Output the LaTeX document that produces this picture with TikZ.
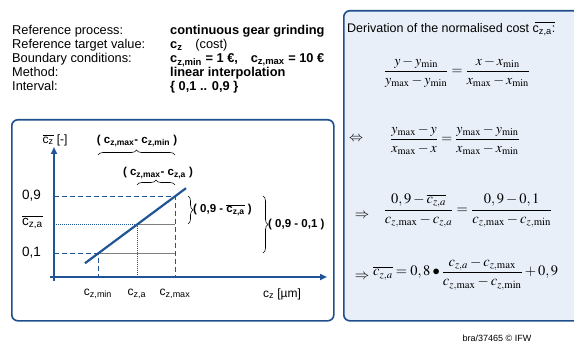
\documentclass[tikz,border=0pt]{standalone}
\usepackage{mathptmx}
\usepackage[no-math]{fontspec}
\setmainfont{Liberation Sans}
\usepackage{amsmath}
\usetikzlibrary{arrows.meta,decorations.pathreplacing}
\definecolor{frame}{HTML}{1F4E8C}
\definecolor{curve}{HTML}{1F5597}
\definecolor{panel}{HTML}{E9EFF9}
\definecolor{grid}{HTML}{7F7F7F}
\newcommand{\cmean}[1]{$\overline{\text{c}_{\text{#1}}}$}
\tikzset{frm/.style={draw=frame,line width=1.6pt,rounded corners=6pt,inner sep=0pt},txt/.style={inner sep=0pt,font=\fontsize{12.8}{14.2}\selectfont},lab/.style={inner sep=0pt,font=\fontsize{12}{14}\selectfont},blab/.style={inner sep=0pt,font=\bfseries\fontsize{11.5}{14}\selectfont},eqa/.style={inner sep=0pt,font=\fontsize{14}{17}\selectfont},eqb/.style={inner sep=0pt,font=\fontsize{14.5}{18}\selectfont},axis/.style={draw=curve,line width=1.8pt,-{Triangle[length=7pt,width=6pt]}},guide/.style={draw=curve,line width=0.8pt,dash pattern=on 5pt off 3pt},dots/.style={draw=curve,line width=0.8pt,dash pattern=on 1pt off 1pt},bar/.style={draw=grid,line width=1.2pt},slope/.style={draw=curve,line width=2.2pt},brc/.style={draw=black,line width=0.6pt,decorate,decoration={brace,amplitude=5pt}}}

\begin{document}
\begin{tikzpicture}[x=1pt,y=-1pt]
\clip (0,0) rectangle (574,345);
% header
\node[txt,anchor=north west] (info) at (12,24) {\begin{tabular}{@{}p{158pt}@{}l@{}}Reference process: & \textbf{continuous gear grinding}\\Reference target value: & \textbf{c\textsubscript{z}}\quad(cost)\\Boundary conditions: & \textbf{c\textsubscript{z,min} = 1 €,\quad c\textsubscript{z,max} = 10 €}\\Method: & \textbf{linear interpolation}\\Interval: & \textbf{\{ 0,1 .. 0,9 \}}\end{tabular}};
% frames
\node[frm,anchor=north west,minimum width=322pt,minimum height=201pt] (chart) at (11,119) {};
\node[frm,fill=panel,anchor=north west,minimum width=245pt,minimum height=310pt] (deriv) at (343,10) {};
% diagram
\coordinate (O) at (54,277);
\coordinate (ya) at (54,281);
\coordinate (yb) at (54,147);
\coordinate (xa) at (50,277);
\coordinate (xb) at (327,277);
\coordinate (L0) at (85,263.2);
\coordinate (L1) at (186,188.2);
\coordinate (P1) at (98,253.5);
\coordinate (P2) at (137,224.5);
\coordinate (P3) at (175,196.3);
\draw[guide] (P3 -| O)--(P3)--(P3 |- O);
\draw[dots] (P2 -| O)--(P2)--(P2 |- O);
\draw[guide] (P1 -| O)--(P1)--(P1 |- O);
\draw[bar] (P2)--(P2 -| P3);
\draw[bar] (P1)--(P1 -| P3);
\draw[slope] (L0)--(L1);
\draw[axis] (ya)--(yb);
\draw[axis] (xa)--(xb);
\node[lab,font=\fontsize{13.5}{15}\selectfont,anchor=west] (v9) at (22,196) {0,9};
\node[lab,font=\fontsize{13.5}{15}\selectfont,anchor=west] (va) at (22,222) {\cmean{z,a}};
\node[lab,font=\fontsize{13.5}{15}\selectfont,anchor=west] (v1) at (22,253) {0,1};
\node[lab] (ylab) at (55,140) {\cmean{z} [-]};
\node[lab] (xmin) at (98,294) {c\textsubscript{z,min}};
\node[lab] (xmid) at (137,294) {c\textsubscript{z,a}};
\node[lab] (xmax) at (175,294) {c\textsubscript{z,max}};
\node[lab] (xlab) at (282,294) {c\textsubscript{z} [µm]};
% braces
\draw[brc] (98,155)--(175,155);
\node[blab] (dmm) at (137,141) {( c\textsubscript{z,max}- c\textsubscript{z,min} )};
\draw[brc] (137,185)--(175,185);
\node[blab] (dma) at (158,173) {( c\textsubscript{z,max}- c\textsubscript{z,a} )};
\draw[brc] (188,196)--(188,224);
\node[blab,anchor=west] (d9a) at (193,210) {( 0,9 - \cmean{z,a} )};
\draw[brc] (263,196)--(263,253);
\node[blab,anchor=west] (d91) at (268,225) {( 0,9 - 0,1 )};
% derivation
\node[txt,font=\fontsize{12.5}{14}\selectfont,anchor=west] (title) at (347,29) {Derivation of the normalised cost c\textsubscript{z,a}:\llap{\rule[0.8em]{20pt}{0.6pt}}};
\node[eqa] (e1) at (457,72) {$\dfrac{y-y_{\min}}{y_{\max}-y_{\min}}=\dfrac{x-x_{\min}}{x_{\max}-x_{\min}}$};
\node[eqa] (s2) at (356,139) {$\Leftrightarrow$};
\node[eqa] (e2) at (455,140) {$\dfrac{y_{\max}-y}{x_{\max}-x}=\dfrac{y_{\max}-y_{\min}}{x_{\max}-x_{\min}}$};
\node[eqb] (s3) at (362,216) {$\Rightarrow$};
\node[eqb] (e3) at (468,211) {$\dfrac{0,9-\overline{c_{z,a}}}{c_{z,\mathrm{max}}-c_{z,a}}=\dfrac{0,9-0,1}{c_{z,\mathrm{max}}-c_{z,\mathrm{min}}}$};
\node[eqb] (s4) at (362,277) {$\Rightarrow$};
\node[eqb,anchor=west] (e4) at (373,274) {$\overline{c_{z,a}}=0,8\bullet\dfrac{c_{z,a}-c_{z,\mathrm{max}}}{c_{z,\mathrm{max}}-c_{z,\mathrm{min}}}+0,9$};
\node[inner sep=0pt,font=\fontsize{9}{10}\selectfont] (ref) at (497,338) {bra/37465 © IFW};
\end{tikzpicture}
\end{document}
